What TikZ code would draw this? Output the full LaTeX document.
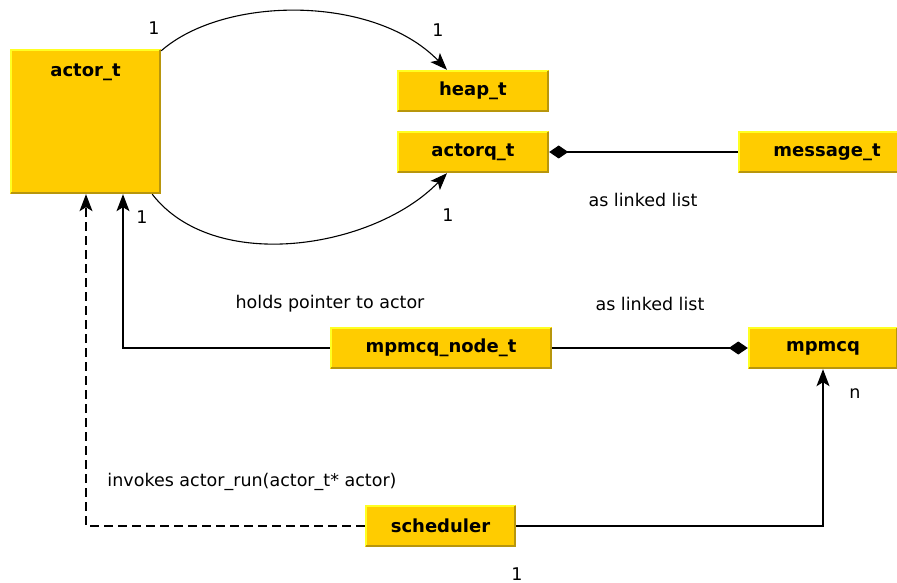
\documentclass[tikz,border=0pt]{standalone}
\usepackage{fontspec}
\setmainfont{DejaVu Sans}
\usetikzlibrary{arrows.meta}
\definecolor{boxfill}{HTML}{FFCC00}
\definecolor{boxlight}{HTML}{FFFF22}
\definecolor{boxdark}{HTML}{B8960C}
\tikzset{
  box/.style={fill=boxfill, inner sep=0pt, font=\fontsize{18}{20}\selectfont\bfseries},
  lbl/.style={inner sep=0pt, font=\fontsize{17.5}{20}\selectfont},
  conn/.style={line width=1.1pt, black},
  tip/.style={-{Stealth[length=17pt,width=13pt,inset=4pt]}},
  dia/.style={{Diamond[length=19pt,width=13pt]}-},
  diaend/.style={-{Diamond[length=19pt,width=13pt]}},
  lightedge/.style={draw=boxlight, line width=2pt},
  darkedge/.style={draw=boxdark, line width=2pt},
}
\begin{document}
\begin{tikzpicture}[x=1pt,y=-1pt]
\useasboundingbox (0,0) rectangle (897,583);

% class boxes
\node[box, minimum width=151, minimum height=145] (actor) at (85.5,121.5) {};
\node[box, anchor=base] (actorlbl) at (85.5,77) {actor\_t};
\node[box, minimum width=152, minimum height=42] (heap) at (473,91) {heap\_t};
\node[box, minimum width=152, minimum height=42] (actorq) at (473,152) {actorq\_t};
\node[box, minimum width=178, minimum height=42] (message) at (827,152) {message\_t};
\node[box, minimum width=222, minimum height=42] (node) at (441,348) {mpmcq\_node\_t};
\node[box, minimum width=150, minimum height=42] (mpmcq) at (823,348) {mpmcq};
\node[box, minimum width=151, minimum height=42] (sched) at (440.5,526) {scheduler};

% raised edges: light on top/left, dark on bottom/right
\foreach \n in {actor,heap,actorq,message,node,mpmcq,sched}{
  \draw[lightedge] ([xshift=1pt,yshift=1pt]\n.south west) |- ([xshift=-1pt,yshift=-1pt]\n.north east);
  \draw[darkedge] ([xshift=1pt,yshift=1pt]\n.south west) -| ([xshift=-1pt,yshift=-1pt]\n.north east);
}

% associations between actor_t and the queues
\draw[conn, tip] ([yshift=-2pt]actor.north east) .. controls (225,-5) and (375,-5) .. (heap.north west -| 447,0);
\draw[conn, tip] ([xshift=-9pt]actor.south east) .. controls (215,275) and (375,248) .. (actorq.south west -| 447,0);

% compositions
\draw[conn, dia] (actorq.east) -- (message.west);
\draw[conn, diaend] (node.east) -- (mpmcq.west);

% references to actor_t and mpmcq
\coordinate (c1) at (node.west -| 123,0);
\draw[conn, tip] (node.west) -- (c1) -- (actor.south -| c1);
\coordinate (c2) at (sched.west -| 86,0);
\draw[conn, tip, dash pattern=on 9pt off 5pt] (sched.west) -- (c2) -- (actor.south -| c2);
\coordinate (c3) at (sched.east -| 823,0);
\draw[conn, tip] (sched.east) -- (c3) -- (mpmcq.south -| c3);

% labels
\node[lbl] (m1) at (154,28) {1};
\node[lbl] (m2) at (438,30) {1};
\node[lbl] (m3) at (142,217) {1};
\node[lbl] (m4) at (448,215) {1};
\node[lbl] (m5) at (517,574) {1};
\node[lbl] (m6) at (855,394) {n};
\node[lbl] (t1) at (643,200) {as linked list};
\node[lbl] (t2) at (650,304) {as linked list};
\node[lbl] (t3) at (330,304) {holds pointer to actor};
\node[lbl] (t4) at (252,482) {invokes actor\_run(actor\_t* actor)};
\end{tikzpicture}
\end{document}
